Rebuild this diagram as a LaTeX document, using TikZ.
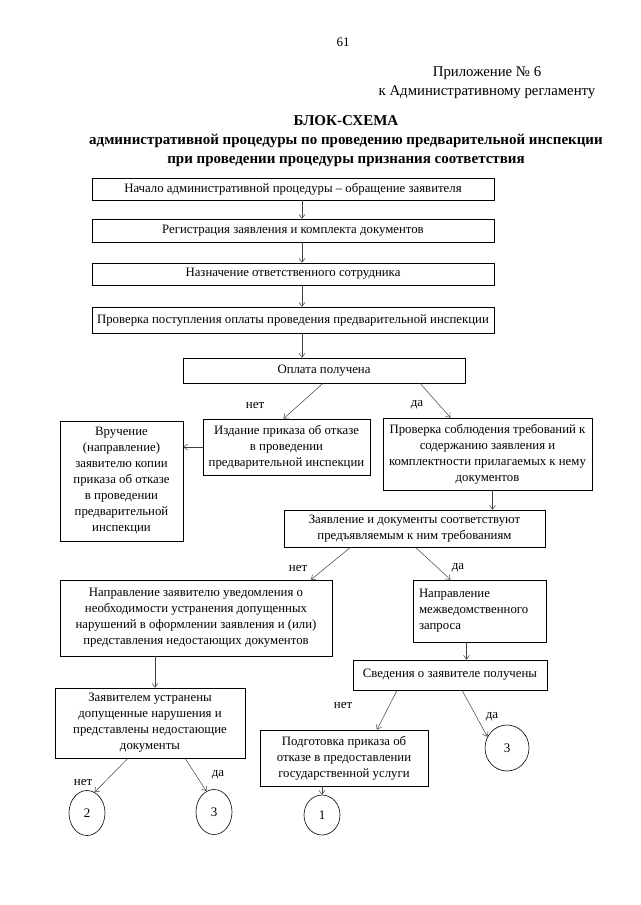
\documentclass[tikz,border=0pt]{standalone}
\usepackage{fontspec}
\setmainfont{Liberation Serif}
\usetikzlibrary{positioning}
\usetikzlibrary{arrows.meta}
\usetikzlibrary{shapes.geometric}

\begin{document}
\begin{tikzpicture}
      [x=1pt, y=-1pt,
       >={Straight Barb[length=4pt,width=6pt]},
       box/.style={draw, line width=0.6pt, align=center, inner sep=2pt,
                   font=\fontsize{12.8}{16}\selectfont},
       circ/.style={draw, ellipse, line width=0.6pt, inner sep=0pt,
                    font=\fontsize{13}{16}\selectfont},
       lbl/.style={font=\fontsize{13}{16}\selectfont},
       arr/.style={->, draw=black!75, line width=0.5pt}]
      \useasboundingbox (0,0) rectangle (640,905);

      % header
      \node (page) at (343,42) {\fontsize{13}{15}\selectfont 61};
      \node (app) [align=center, font=\fontsize{14.8}{19}\selectfont] at (487,82.5)
            {Приложение № 6\\к Административному регламенту};
      \node (title) [align=center, font=\bfseries\fontsize{15}{19}\selectfont] at (346,141)
            {БЛОК-СХЕМА\\административной процедуры по проведению предварительной инспекции\\при проведении процедуры признания соответствия};

      % blocks
      \node (b1) [box, minimum width=402pt, minimum height=22pt] at (293,189)
            {Начало административной процедуры – обращение заявителя};
      \node (b2) [box, minimum width=402pt, minimum height=23pt] at (293,230.5)
            {Регистрация заявления и комплекта документов};
      \node (b3) [box, minimum width=402pt, minimum height=22pt] at (293,274)
            {Назначение ответственного сотрудника};
      \node (b4) [box, minimum width=402pt, minimum height=26pt] at (293,320)
            {Проверка поступления оплаты проведения предварительной инспекции};
      \node (b5) [box, minimum width=282pt, minimum height=25pt] at (324,370.5)
            {Оплата получена};
      \node (b6) [box, minimum width=167pt, minimum height=56pt] at (286.5,447)
            {Издание приказа об отказе\\в проведении\\предварительной инспекции};
      \node (b7) [box, minimum width=123pt, minimum height=120pt] at (121.5,481)
            {Вручение\\(направление)\\заявителю копии\\приказа об отказе\\в проведении\\предварительной\\инспекции};
      \node (b8) [box, minimum width=209pt, minimum height=72pt] at (487.5,454)
            {Проверка соблюдения требований к\\содержанию заявления и\\комплектности прилагаемых к нему\\документов};
      \node (b9) [box, minimum width=261pt, minimum height=37pt] at (414.5,528.5)
            {Заявление и документы соответствуют\\предъявляемым к ним требованиям};
      \node (b10) [box, minimum width=272pt, minimum height=76pt] at (196,618)
            {Направление заявителю уведомления о\\необходимости устранения допущенных\\нарушений в оформлении заявления и (или)\\представления недостающих документов};
      \node (b11) [box, align=left, text width=121pt, inner xsep=6pt, minimum height=62pt] at (479.5,611)
            {Направление\\межведомственного\\запроса};
      \node (b12) [box, minimum width=194pt, minimum height=30pt] at (450,675)
            {Сведения о заявителе получены};
      \node (b13) [box, minimum width=190pt, minimum height=70pt] at (150,723)
            {Заявителем устранены\\допущенные нарушения и\\представлены недостающие\\документы};
      \node (b14) [box, minimum width=168pt, minimum height=56pt] at (344,758)
            {Подготовка приказа об\\отказе в предоставлении\\государственной услуги};

      % connectors
      \node (c2) [circ, minimum width=36pt, minimum height=45pt] at (87,813) {2};
      \node (c3a) [circ, minimum width=36pt, minimum height=45pt] at (214,812) {3};
      \node (c1) [circ, minimum width=36pt, minimum height=40pt] at (322,815) {1};
      \node (c3b) [circ, minimum width=44pt, minimum height=46pt] at (507,748) {3};

      % labels
      \node (no1) [lbl] at (255,405) {нет};
      \node (yes1) [lbl] at (417,405) {да};
      \node (no2) [lbl] at (298,568) {нет};
      \node (yes2) [lbl] at (458,568) {да};
      \node (no3) [lbl] at (343,705) {нет};
      \node (yes3) [lbl] at (492,717) {да};
      \node (no4) [lbl] at (83,782) {нет};
      \node (yes4) [lbl] at (218,775) {да};

      \draw [arr] ([xshift=9pt]b1.south) -- ([xshift=9pt]b1.south |- b2.north);
      \draw [arr] ([xshift=9pt]b2.south) -- ([xshift=9pt]b2.south |- b3.north);
      \draw [arr] ([xshift=9pt]b3.south) -- ([xshift=9pt]b3.south |- b4.north);
      \draw [arr] ([xshift=9pt]b4.south) -- ([xshift=9pt]b4.south |- b5.north);
      \draw [arr] ([xshift=-1pt]b5.south) -- ([xshift=-3pt]b6.north);
      \draw [arr] ([xshift=96pt]b5.south) -- ([xshift=-37pt]b8.north);
      \draw [arr] (b6.west) -- (b6.west -| b7.east);
      \draw [arr] ([xshift=5pt]b8.south) -- ([xshift=5pt]b8.south |- b9.north);
      \draw [arr] ([xshift=-64pt]b9.south) -- ([xshift=115pt]b10.north);
      \draw [arr] ([xshift=1pt]b9.south) -- ([xshift=-29pt]b11.north);
      \draw [arr] ([xshift=-41pt]b10.south) -- ([xshift=-41pt]b10.south |- b13.north);
      \draw [arr] ([xshift=-13pt]b11.south) -- ([xshift=-13pt]b11.south |- b12.north);
      \draw [arr] ([xshift=-53pt]b12.south) -- ([xshift=33pt]b14.north);
      \draw [arr] ([xshift=12pt]b12.south) -- (c3b.150);
      \draw [arr] ([xshift=-22pt]b13.south) -- (c2.70);
      \draw [arr] ([xshift=35pt]b13.south) -- (c3a.110);
      \draw [arr] ([xshift=-22pt]b14.south) -- ([xshift=-22pt]b14.south |- c1.north);

\end{tikzpicture}
\end{document}
